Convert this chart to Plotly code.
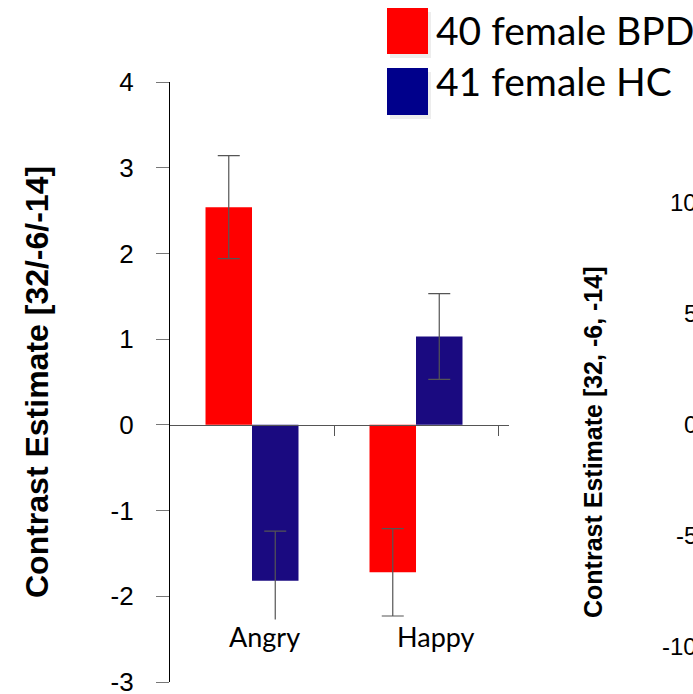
import plotly.graph_objects as go

# ---- data ----
categories = ["Angry", "Happy"]
bpd_values = [2.54, -1.72]
bpd_errors = [0.60, 0.51]
hc_values = [-1.82, 1.03]
hc_errors = [0.58, 0.50]
series_names = ["40 female BPD", "41 female HC"]
y_ticks = [-3, -2, -1, 0, 1, 2, 3, 4]
y2_ticks = [10, 5, 0, -5, -10]
y_title = "Contrast Estimate [32/-6/-14]"
y2_title = "Contrast Estimate [32, -6, -14]"

# ---- geometry ----
W, H = 693, 694
L, R, T, B = 170, 184, 82, 12
PW, PH = W - L - R, H - T - B
YMIN, YMAX = -3, 4
XMIN, XMAX = -0.5, 1.567


def px(xpix):
    return (xpix - L) / PW


def py(ypix):
    return (H - B - ypix) / PH


RED = "#FF0000"
BLUE_BAR = "#1A0A80"
BLUE_LEG = "#00008B"
ARIAL = "Liberation Sans, Arial, sans-serif"
CAL = "Lato, Carlito, Calibri, sans-serif"

fig = go.Figure()
fig.add_trace(go.Bar(
    x=categories, y=bpd_values, name=series_names[0], marker_color=RED,
    marker_line_width=0,
    error_y=dict(type="data", array=bpd_errors, color="#555555", thickness=1.2, width=11),
))
fig.add_trace(go.Bar(
    x=categories, y=hc_values, name=series_names[1], marker_color=BLUE_BAR,
    marker_line_width=0,
    error_y=dict(type="data", array=hc_errors, color="#555555", thickness=1.2, width=11),
))

zero_pos = (0 - YMIN) / (YMAX - YMIN)

annotations = []
# category labels
for cat, shift in zip(categories, [12, 20]):
    annotations.append(dict(x=cat, y=-2.47, xref="x", yref="y", text=cat, showarrow=False,
                            xshift=shift, font=dict(family=CAL, size=27, color="black"),
                            bgcolor="white", borderpad=0))
# main y title
annotations.append(dict(x=px(37), y=py(382), xref="paper", yref="paper", text=y_title,
                        textangle=-90, showarrow=False, xanchor="center", yanchor="middle",
                        font=dict(family=ARIAL, size=32, color="black", weight="bold")))
# second (cropped) chart title
annotations.append(dict(x=px(593), y=py(442), xref="paper", yref="paper", text=y2_title,
                        textangle=-90, showarrow=False, xanchor="center", yanchor="middle",
                        font=dict(family=ARIAL, size=25, color="black", weight="bold")))
# second (cropped) chart tick labels
for v in y2_ticks:
    annotations.append(dict(x=px(699), y=v, xref="paper", yref="y2", text=str(v),
                            showarrow=False, xanchor="right", yanchor="middle",
                            font=dict(family=ARIAL, size=24, color="black")))
# legend texts
for name, yc in zip(series_names, [30, 81]):
    annotations.append(dict(x=px(434), y=py(yc), xref="paper", yref="paper", text=name,
                            showarrow=False, xanchor="left", yanchor="middle",
                            font=dict(family=CAL, size=39, color="black")))

shapes = []
for (y0, y1), col in zip([(8, 54), (68, 115)], [RED, BLUE_LEG]):
    shapes.append(dict(type="rect", xref="paper", yref="paper", x0=px(390), x1=px(431),
                       y0=py(y1 + 4), y1=py(y0 + 4), fillcolor="rgba(0,0,0,0.07)", line_width=0,
                       layer="above"))
    shapes.append(dict(type="rect", xref="paper", yref="paper", x0=px(387), x1=px(428),
                       y0=py(y1), y1=py(y0), fillcolor=col, line_width=0, layer="above"))

scale2 = 3.86
fig.update_layout(
    width=W, height=H,
    margin=dict(l=L, r=R, t=T, b=B, pad=0, autoexpand=False),
    paper_bgcolor="white", plot_bgcolor="white",
    barmode="group", bargap=0.433, bargroupgap=0,
    showlegend=False,
    xaxis=dict(range=[XMIN, XMAX], anchor="free", position=zero_pos, showline=True,
               linecolor="#555555", linewidth=1.2, tickmode="array", tickvals=[0.5, 1.5],
               ticks="outside", ticklen=10, tickcolor="#555555", tickwidth=1,
               showticklabels=False, showgrid=False, zeroline=False, automargin=False),
    yaxis=dict(range=[YMIN, YMAX], tickmode="array", tickvals=y_ticks,
               ticktext=[str(v) for v in y_ticks], ticks="outside", ticklen=13,
               tickcolor="#777777", tickwidth=1, showline=True, linecolor="black",
               linewidth=1.2, showgrid=False, zeroline=False, ticklabelstandoff=17,
               ticklabeloverflow="allow", automargin=False,
               tickfont=dict(family=ARIAL, size=26, color="black")),
    yaxis2=dict(range=[YMIN * scale2, YMAX * scale2], overlaying="y", visible=False,
                automargin=False),
    annotations=annotations,
    shapes=shapes,
)

fig.write_html("out.html")
